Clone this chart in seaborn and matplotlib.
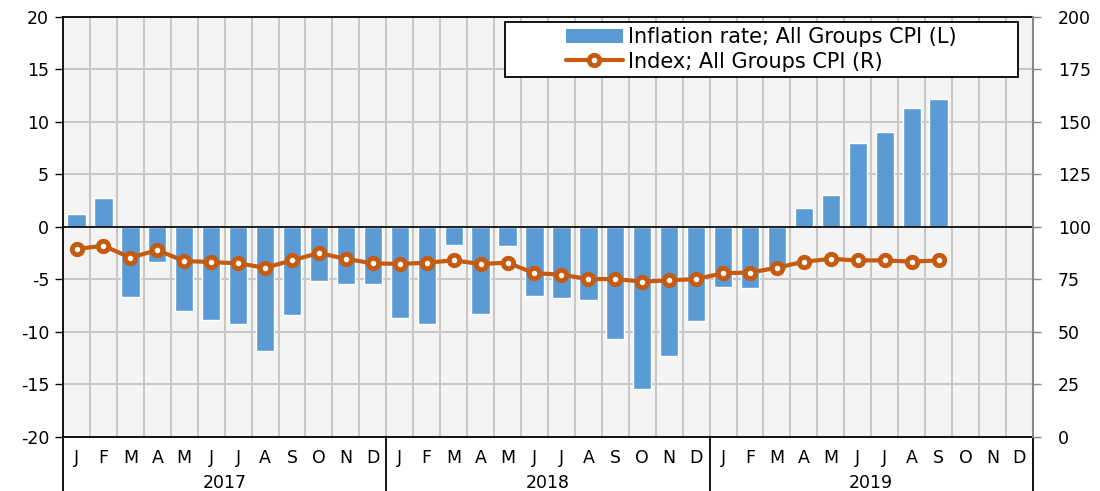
import numpy as np
import pandas as pd
import matplotlib
matplotlib.use("Agg")
import matplotlib.pyplot as plt
import matplotlib.transforms as mtransforms
from matplotlib.lines import Line2D
from matplotlib.patches import Patch, Rectangle
import seaborn as sns

# monthly data, Jan 2017 - Sep 2019
month_letters = ["J", "F", "M", "A", "M", "J", "J", "A", "S", "O", "N", "D"]
years = ["2017", "2018", "2019"]

inflation = [1.2, 2.8, -6.7, -3.3, -8.0, -8.9, -9.2, -11.8, -8.4, -5.1, -5.4, -5.4,
             -8.7, -9.2, -1.7, -8.3, -1.8, -6.6, -6.8, -7.0, -10.7, -15.4, -12.3, -9.0,
             -5.7, -5.8, -4.1, 1.8, 3.0, 8.0, 9.0, 11.3, 12.2]
cpi_index = [89.5, 91.1, 85.4, 89.0, 83.8, 83.3, 82.7, 80.6, 84.1, 87.6, 84.8, 82.7,
             82.4, 83.0, 84.1, 82.4, 83.0, 78.0, 77.3, 75.2, 75.2, 74.0, 74.6, 75.2,
             78.0, 78.3, 80.6, 83.5, 84.8, 84.1, 84.1, 83.5, 84.1]

n_months = len(month_letters) * len(years)
df = pd.DataFrame({"month": np.arange(len(inflation)),
                   "inflation": inflation,
                   "index": cpi_index})

bar_color = "#5B9BD5"
line_color = "#C55A11"
fs = 12.5

sns.set_theme(style="white")
plt.rcParams["font.family"] = ["DejaVu Sans"]
plt.rcParams["axes.unicode_minus"] = False
plt.rcParams["text.color"] = "black"
plt.rcParams["xtick.labelcolor"] = "black"
plt.rcParams["ytick.labelcolor"] = "black"

fig = plt.figure(figsize=(11, 4.91), dpi=100)
ax = fig.add_axes([0.0573, 0.110, 0.8817, 0.8554])
ax.set_facecolor("#F4F4F4")

sns.barplot(data=df, x="month", y="inflation", order=list(range(n_months)),
            color=bar_color, saturation=1, width=0.68, errorbar=None, ax=ax)
ax.set_xlim(-0.5, n_months - 0.5)
ax.set_ylim(-20, 20)
ax.set_yticks(np.arange(-20, 21, 5))
ax.set_axisbelow(True)

# grid: vertical at month boundaries, horizontal at ticks
for b in np.arange(0.5, n_months - 0.5, 1):
    ax.axvline(b, color="#C8C8C8", lw=1.5, zorder=0.5)
for t in np.arange(-15, 20, 5):
    ax.axhline(t, color="#C8C8C8", lw=1.5, zorder=0.5)
ax.axhline(0, color="black", lw=1.2, zorder=3)

ax.set_xticks(np.arange(n_months))
ax.set_xticklabels(month_letters * len(years), fontsize=fs)
ax.tick_params(axis="x", length=0, pad=9, labelcolor="black")
ax.tick_params(axis="y", length=6, width=1, color="black", direction="out",
               labelsize=fs, pad=4, left=True, labelcolor="black")
ax.set_xlabel("")
ax.set_ylabel("")
for s in ["left", "bottom", "top"]:
    ax.spines[s].set_color("black")
    ax.spines[s].set_linewidth(1.3)
ax.spines["right"].set_visible(False)

# year separators and labels
trans = mtransforms.blended_transform_factory(ax.transData, ax.transAxes)
for b in [-0.5, 11.5, 23.5, 35.5]:
    ax.add_line(Line2D([b, b], [0, -0.14], transform=trans, color="black",
                       lw=1.3, clip_on=False))
for i, y in enumerate(years):
    ax.text(i * 12 + 5.5, -0.11, y, transform=trans, ha="center", va="center",
            fontsize=fs, color="black")

ax2 = ax.twinx()
line_kw = dict(color=line_color, lw=3, marker="o", markersize=7.5,
               markerfacecolor="white", markeredgecolor=line_color,
               markeredgewidth=3.5)
sns.lineplot(data=df, x="month", y="index", ax=ax2, zorder=4, **line_kw)
ax2.set_ylim(0, 200)
ax2.set_yticks(np.arange(0, 201, 25))
ax2.set_xlim(-0.5, n_months - 0.5)
ax2.set_ylabel("")
ax2.set_xlabel("")
ax2.tick_params(axis="y", length=6, width=1, color="#888888", direction="out",
                labelsize=fs, pad=12, right=True, labelcolor="black")
ax2.spines["right"].set_color("#888888")
ax2.spines["right"].set_linewidth(1.5)
for s in ["left", "bottom", "top"]:
    ax2.spines[s].set_visible(False)

# legend: wide framed box with centred entries
ax2.add_patch(Rectangle((0.4557, 0.857), 0.5288, 0.131, transform=ax2.transAxes,
                        facecolor="white", edgecolor="black", lw=1.3, zorder=5))
handles = [Patch(facecolor=bar_color, edgecolor="none"),
           Line2D([], [], **line_kw)]
labels = ["Inflation rate; All Groups CPI (L)", "Index; All Groups CPI (R)"]
leg = ax2.legend(handles, labels, loc="center", bbox_to_anchor=(0.72, 0.9225),
                 fontsize=15, frameon=False, handlelength=2.7, borderpad=0,
                 labelspacing=0.2, handletextpad=0.25, borderaxespad=0)
leg.set_zorder(6)

fig.savefig("out.png", dpi=100)
